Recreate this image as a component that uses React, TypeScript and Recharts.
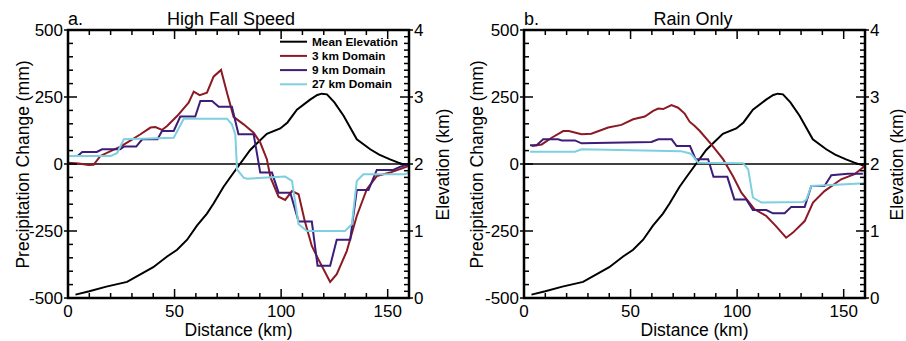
import React from 'react';
import { LineChart, Line, XAxis, YAxis, ReferenceLine, Legend } from 'recharts';

type Pt = [number, number];

// distance (km) vs elevation (km), same terrain profile in both panels
const elevation: Pt[] = [
  [3.5, 0.05], [10, 0.1], [18, 0.17], [27.7, 0.24], [35, 0.37], [40, 0.46], [46.5, 0.62],
  [51.2, 0.72], [55.9, 0.87], [60.5, 1.08], [65.2, 1.26], [68.3, 1.41], [73, 1.66], [77, 1.84],
  [80, 1.97], [85.5, 2.21], [88.7, 2.31], [93.3, 2.45], [99.6, 2.53], [103, 2.62], [107.4, 2.81],
  [113.6, 2.96], [117, 3.03], [119.1, 3.05], [121.5, 3.04], [125, 2.92], [129.3, 2.72],
  [135.5, 2.37], [141.8, 2.22], [146, 2.14], [151.1, 2.07], [155, 2.02], [159, 1.98], [160, 1.98],
];

// a. High Fall Speed, precipitation change (mm)
const fall3km: Pt[] = [
  [0, 5], [5, 2], [9.7, -4], [12, -3], [15.2, 30], [20, 48], [24.6, 65], [30, 91], [34, 111],
  [38.7, 136], [41, 138], [44.1, 127], [46.5, 142], [51.2, 179], [56.6, 229], [59, 270],
  [61.8, 257], [65.2, 266], [68.3, 326], [71.8, 351], [74.6, 266], [77.7, 176], [82.4, 148],
  [87.1, 117], [90.2, 80], [93.3, 18], [95, -50], [98.8, -122], [101.9, -134], [105.1, -101],
  [108.2, -113], [111, -210], [114.4, -306], [117.5, -356], [123, -440], [126.1, -411],
  [130.8, -325], [135.5, -194], [140.2, -94], [144.9, -45], [151.1, -32], [159, -10], [160, -2],
];
const fall9km: Pt[] = [
  [0, 30], [4.5, 30], [6.7, 45], [13.5, 45], [16, 55], [24.5, 55], [26.2, 65], [32, 65],
  [34.8, 92], [42, 92], [44.1, 123], [49.6, 123], [52.7, 177], [59.7, 177], [62.1, 235],
  [67.6, 235], [70.7, 214], [76.9, 214], [80, 111], [87.1, 111], [90.2, -32], [95.7, -32],
  [98.8, -107], [104.3, -107], [108.2, -215], [114.4, -215], [117.1, -380], [123, -380],
  [126.1, -283], [132.4, -283], [135.5, -97], [141, -97], [144.9, -22], [152.6, -22],
  [156, -10], [160, 0],
];
const fall27km: Pt[] = [
  [0, 30], [20, 30], [23, 40], [26.2, 92], [49.6, 98], [54.3, 169], [74.6, 169], [76.9, 148],
  [78.5, 110], [79.3, -20], [82.4, -51], [84, -55], [101.9, -47], [105.1, -63], [108.2, -225],
  [112.1, -250], [130, -250], [133.2, -225], [135.5, -63], [138.6, -38], [158, -38], [160, -32],
];

// b. Rain Only
const rain3km: Pt[] = [
  [3.6, 67], [8.3, 73], [13, 98], [18.4, 123], [21, 123], [27, 111], [31.6, 113], [39.5, 136],
  [45.7, 146], [51.2, 167], [56.7, 177], [60.6, 198], [63, 207], [65.3, 205], [69.2, 220],
  [72.3, 210], [75.4, 188], [77.7, 158], [80.1, 142], [82.5, 123], [87.9, 73], [93.4, 18],
  [98, -45], [102, -107], [108.2, -169], [113.7, -194], [118, -230], [123, -275], [126.2, -256],
  [131.7, -213], [135.6, -144], [141, -101], [148.8, -57], [155.1, -38], [159, -13], [160, 0],
];
const rain9km: Pt[] = [
  [2.8, 70], [5.9, 70], [9, 92], [16, 92], [17.7, 88], [23.9, 88], [27, 77], [59.8, 82],
  [63, 92], [69.3, 92], [71.6, 67], [77.9, 67], [80.5, 18], [86.4, 18], [88.9, -48],
  [95.4, -48], [98.7, -132], [104.3, -132], [107.4, -172], [113.7, -172], [116.8, -184],
  [122.3, -184], [125.4, -160], [131.7, -160], [134.8, -82], [141, -82], [144.2, -42],
  [152, -36], [159, -36],
];
const rain27km: Pt[] = [
  [2.8, 46], [23.9, 46], [27, 55], [73.6, 48], [77.6, 40], [78.6, 36], [81.7, 5], [102.8, 3],
  [105.2, -20], [107.4, -125], [111.4, -144], [130.9, -142], [132.5, -133], [134.8, -82],
  [160, -72],
];

const xTicks = [0, 10, 20, 30, 40, 50, 60, 70, 80, 90, 100, 110, 120, 130, 140, 150, 160];
const mmTicks = Array.from({ length: 21 }, (_, i) => -500 + i * 50);
const kmTicks = Array.from({ length: 41 }, (_, i) => i / 10);

const legendNames = ['Mean Elevation', '3 km Domain', '9 km Domain', '27 km Domain'];
const COLORS = ['#000000', '#8c1a24', '#3d1c7a', '#7ecfdf'];
const FONT = '"Liberation Sans", Arial, Helvetica, sans-serif';

const W = 453;
const H = 341;
const PLOT_TOP = 30;
const PLOT_BOTTOM = 298;
const X_DOMAIN: [number, number] = [0, 160];
const MM_DOMAIN: [number, number] = [-500, 500];
const KM_DOMAIN: [number, number] = [0, 4];

const toRows = (pts: Pt[]) => pts.map(([x, y]) => ({ x, y }));

function isMajor(side: string, v: number) {
  if (side === 'right') return Number.isInteger(v);
  if (side === 'left') return v % 250 === 0;
  return v % 50 === 0;
}

// tick labels for majors only; axisAt = pixel position of the axis line
function AxisTick(props: any) {
  const { payload, side, axisAt } = props;
  const v = payload.value;
  if (!isMajor(side, v) || side === 'top') return null;
  if (side === 'left' || side === 'right') {
    const dir = side === 'left' ? 1 : -1;
    return (
      <text x={axisAt - dir * 5} y={Number(props.y)} dy="0.36em" textAnchor={side === 'left' ? 'end' : 'start'}
        fontFamily={FONT} fontSize={17} fill="#000000">
        {v}
      </text>
    );
  }
  return (
    <text x={Number(props.x)} y={axisAt + 7} dy="0.71em" textAnchor="middle" fontFamily={FONT} fontSize={17} fill="#000000">
      {v}
    </text>
  );
}

// plot frame with inward ticks, placed on the same linear mapping the chart axes use
function Frame({ padL, plotRight }: { padL: number; plotRight: number }) {
  const sx = (v: number) => padL + ((v - X_DOMAIN[0]) / (X_DOMAIN[1] - X_DOMAIN[0])) * (plotRight - padL);
  const sy = (v: number, d: [number, number]) => PLOT_TOP + ((d[1] - v) / (d[1] - d[0])) * (PLOT_BOTTOM - PLOT_TOP);
  return (
    <g stroke="#000000" strokeWidth={1.5}>
      {xTicks.map((v) => {
        const len = isMajor('bottom', v) ? 9 : 5;
        return (
          <g key={`x${v}`}>
            <line x1={sx(v)} x2={sx(v)} y1={PLOT_BOTTOM} y2={PLOT_BOTTOM - len} />
            <line x1={sx(v)} x2={sx(v)} y1={PLOT_TOP} y2={PLOT_TOP + len} />
          </g>
        );
      })}
      {mmTicks.map((v) => {
        const m = isMajor('left', v);
        return <line key={`l${v}`} x1={padL - (m ? 4 : 0)} x2={padL + (m ? 9 : 5)} y1={sy(v, MM_DOMAIN)} y2={sy(v, MM_DOMAIN)} />;
      })}
      {kmTicks.map((v) => {
        const m = isMajor('right', v);
        return <line key={`r${v}`} x1={plotRight + (m ? 4 : 0)} x2={plotRight - (m ? 9 : 5)} y1={sy(v, KM_DOMAIN)} y2={sy(v, KM_DOMAIN)} />;
      })}
      <rect x={padL} y={PLOT_TOP} width={plotRight - padL} height={PLOT_BOTTOM - PLOT_TOP} fill="none" strokeWidth={2.5} />
    </g>
  );
}

function LegendBox() {
  return (
    <svg width={132} height={60}>
      {legendNames.map((name, i) => (
        <g key={name}>
          <line x1={2} x2={29} y1={8.7 + i * 14.2} y2={8.7 + i * 14.2} stroke={COLORS[i]} strokeWidth={2} />
          <text x={34} y={8.7 + i * 14.2} dy="0.35em" fontFamily={FONT} fontWeight="bold" fontSize={11.8} fill="#000">
            {name}
          </text>
        </g>
      ))}
    </svg>
  );
}

type PanelProps = {
  left: number;
  letter: string;
  title: string;
  titleX: number;
  series: Pt[][];
  padL: number;
  padR: number;
  yTitleX: number;
  rTitleX: number;
  legend?: boolean;
};

function Panel({ left, letter, title, titleX, series, padL, padR, yTitleX, rTitleX, legend }: PanelProps) {
  const plotRight = W - padR;
  const plotMid = (padL + plotRight) / 2;
  return (
    <div style={{ position: 'absolute', left, top: 0, width: W, height: H }}>
      <LineChart width={W} height={H} margin={{ top: PLOT_TOP - 1, right: 0, bottom: 0, left: 0 }}>
        <XAxis xAxisId="b" type="number" dataKey="x" domain={X_DOMAIN} allowDataOverflow ticks={xTicks}
          interval={0} height={H - PLOT_BOTTOM} tickLine={false} axisLine={false}
          tick={<AxisTick side="bottom" axisAt={PLOT_BOTTOM} />} />
        <XAxis xAxisId="t" orientation="top" type="number" dataKey="x" domain={X_DOMAIN} allowDataOverflow
          ticks={xTicks} interval={0} height={1} tickLine={false} axisLine={false} tick={false} />
        <YAxis yAxisId="mm" type="number" domain={MM_DOMAIN} allowDataOverflow ticks={mmTicks}
          interval={0} width={padL} tickLine={false} axisLine={false}
          tick={<AxisTick side="left" axisAt={padL} />} />
        <YAxis yAxisId="km" orientation="right" type="number" domain={KM_DOMAIN} allowDataOverflow
          ticks={kmTicks} interval={0} width={padR} tickLine={false} axisLine={false}
          tick={<AxisTick side="right" axisAt={plotRight} />} />
        <ReferenceLine xAxisId="b" yAxisId="mm" y={0} stroke="#000000" strokeWidth={1.5} />
        <Line xAxisId="t" yAxisId="km" data={toRows(elevation)} dataKey="y" stroke={COLORS[0]}
          strokeWidth={2} dot={false} isAnimationActive={false} />
        {series.map((pts, i) => (
          <Line key={i} xAxisId="b" yAxisId="mm" data={toRows(pts)} dataKey="y" stroke={COLORS[i + 1]}
            strokeWidth={2} dot={false} isAnimationActive={false} />
        ))}
        {legend && (
          <Legend layout="vertical" align="center" verticalAlign="middle" content={() => <LegendBox />}
            wrapperStyle={{ left: 278, top: 33, width: 132, height: 60 }} />
        )}
      </LineChart>
      <svg width={W} height={H} style={{ position: 'absolute', left: 0, top: 0, pointerEvents: 'none' }}>
        <Frame padL={padL} plotRight={plotRight} />
        <text x={padL} y={24.5} fontFamily={FONT} fontSize={18}>{letter}</text>
        <text x={titleX} y={24.5} textAnchor="middle" fontFamily={FONT} fontSize={18}>{title}</text>
        <text x={plotMid} y={335.5} textAnchor="middle" fontFamily={FONT} fontSize={17.5}>Distance (km)</text>
        <text x={yTitleX} y={164.5} textAnchor="middle" dominantBaseline="central" fontFamily={FONT} fontSize={17.5}
          transform={`rotate(-90 ${yTitleX} 164.5)`}>Precipitation Change (mm)</text>
        <text x={rTitleX} y={164.5} textAnchor="middle" dominantBaseline="central" fontFamily={FONT} fontSize={17.5}
          transform={`rotate(-90 ${rTitleX} 164.5)`}>Elevation (km)</text>
      </svg>
    </div>
  );
}

export default function App() {
  return (
    <div style={{ position: 'absolute', left: 0, top: 0, width: 906, height: 341, background: '#fff', fontFamily: FONT }}>
      <Panel left={0} letter="a." title="High Fall Speed" titleX={231} series={[fall3km, fall9km, fall27km]}
        padL={68} padR={44} yTitleX={22.5} rTitleX={443} legend />
      <Panel left={453} letter="b." title="Rain Only" titleX={240} series={[rain3km, rain9km, rain27km]}
        padL={71} padR={41} yTitleX={23.5} rTitleX={444} />
    </div>
  );
}
